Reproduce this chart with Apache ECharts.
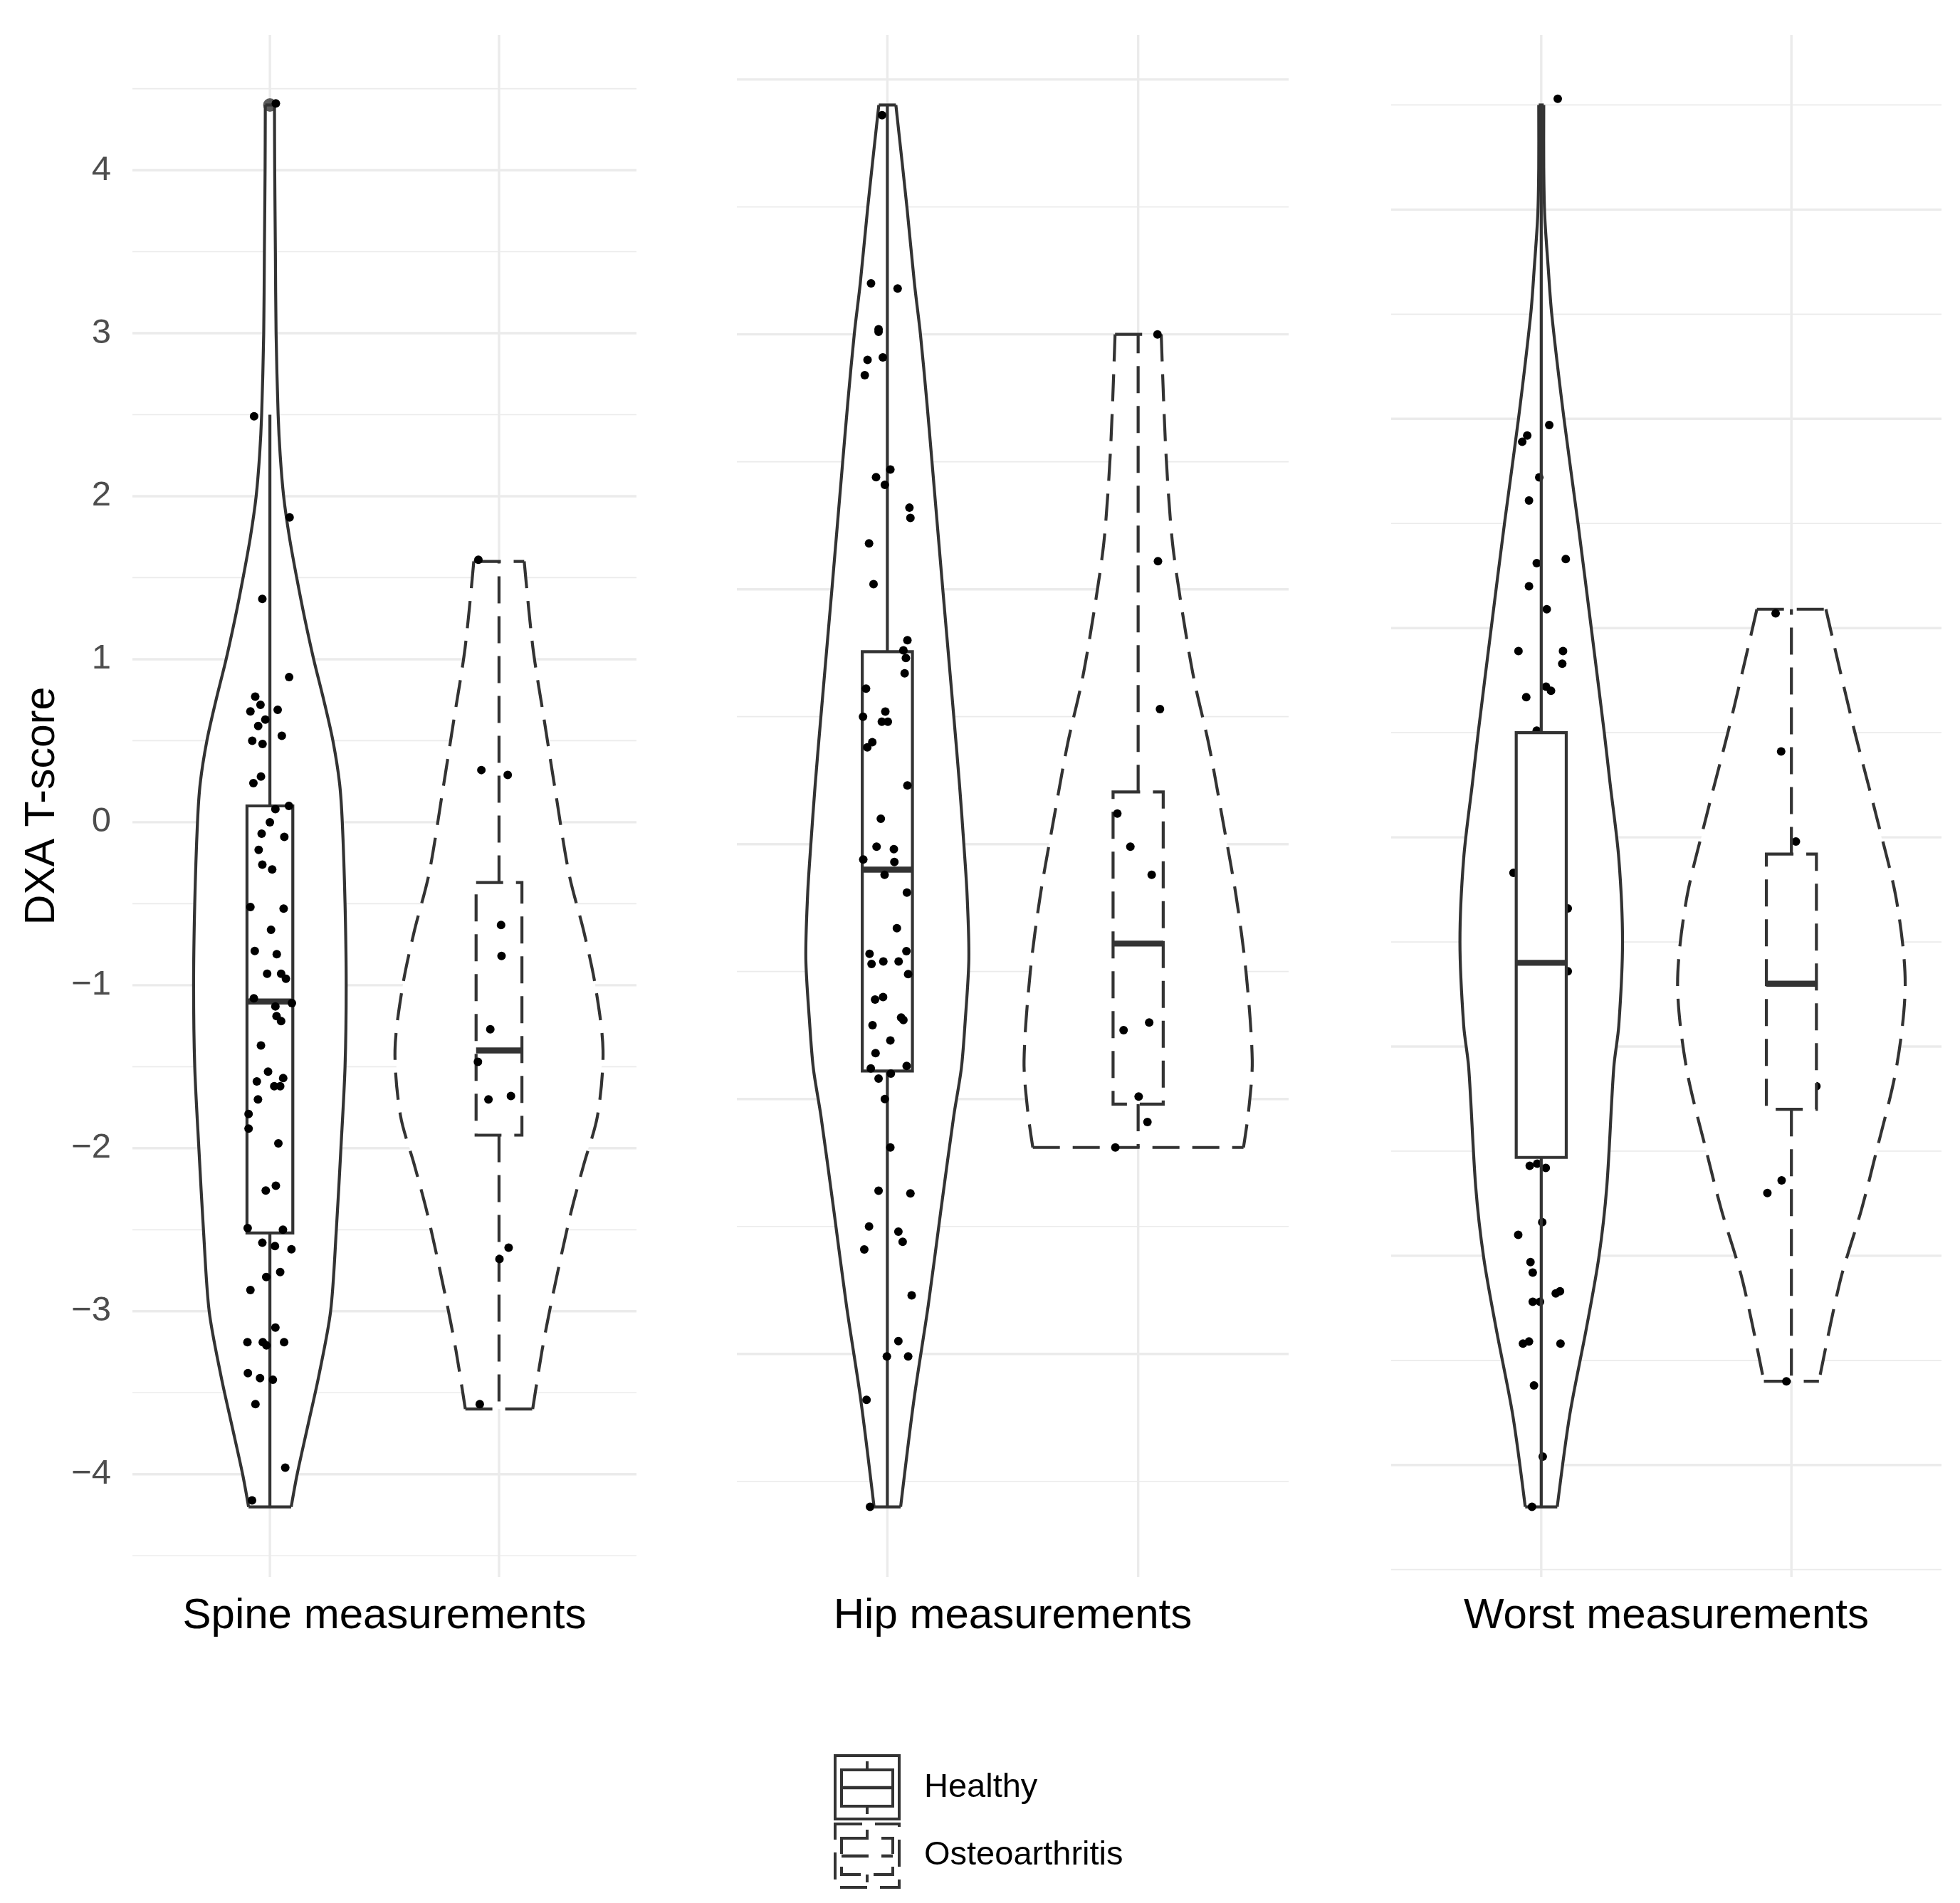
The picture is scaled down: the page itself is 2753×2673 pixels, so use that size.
<!DOCTYPE html>
<html><head><meta charset="utf-8">
<script src="https://cdn.jsdelivr.net/npm/echarts@6/dist/echarts.min.js"></script>
<style>html,body{margin:0;padding:0;background:#fff}#c{width:2753px;height:2673px}</style>
</head><body><div id="c"></div>
<script>
const panels = ['Spine measurements', 'Hip measurements', 'Worst measurements'];
const groups = ['Healthy', 'Osteoarthritis'];

// y tick values (major = labelled, minor = half steps)
const spineMajor = [-4, -3, -2, -1, 0, 1, 2, 3, 4];
const spineMinor = [-4.5, -3.5, -2.5, -1.5, -0.5, 0.5, 1.5, 2.5, 3.5, 4.5];
const hipMajor = [-2, -1, 0, 1, 2, 3];
const hipMinor = [-2.5, -1.5, -0.5, 0.5, 1.5, 2.5];
const worstMajor = [-4, -3, -2, -1, 0, 1, 2];
const worstMinor = [-4.5, -3.5, -2.5, -1.5, -0.5, 0.5, 1.5, 2.5];

// violin outlines: [T-score, half width in category units]
const spineHealthyViolin = [[4.4,0.02],[4.0,0.021],[3.5,0.024],[3.0,0.027],[2.5,0.036],[2.25,0.045],[2.0,0.06],[1.75,0.085],[1.5,0.117],[1.25,0.152],[1.0,0.191],[0.75,0.235],[0.5,0.275],[0.24,0.304],[0,0.316],[-0.5,0.328],[-1.0,0.333],[-1.5,0.328],[-2.0,0.31],[-2.5,0.29],[-3.0,0.265],[-3.4,0.213],[-3.7,0.166],[-4.0,0.119],[-4.2,0.093]];
const spineOAViolin = [[1.6,0.11],[1.07,0.148],[0.62,0.198],[0.2,0.245],[-0.32,0.306],[-0.67,0.37],[-1.0,0.42],[-1.4,0.454],[-1.8,0.43],[-2.1,0.37],[-2.4,0.313],[-2.9,0.235],[-3.24,0.188],[-3.6,0.147]];
const hipHealthyViolin = [[2.9,0.034],[2.5,0.078],[2.2,0.108],[2.0,0.132],[1.74,0.157],[1.5,0.178],[1.0,0.221],[0.5,0.265],[0.23,0.288],[0,0.305],[-0.2,0.318],[-0.45,0.325],[-0.7,0.31],[-0.88,0.295],[-1.065,0.265],[-1.44,0.213],[-1.81,0.163],[-2.18,0.106],[-2.6,0.053]];
const hipOAViolin = [[2.0,0.092],[1.55,0.11],[1.2,0.135],[0.95,0.17],[0.65,0.222],[0.39,0.282],[0.09,0.338],[-0.2,0.39],[-0.5,0.43],[-0.85,0.455],[-1.05,0.44],[-1.19,0.42]];
const worstHealthyViolin = [[2.5,0.01],[2.2,0.01],[1.97,0.014],[1.72,0.028],[1.5,0.042],[1.0,0.091],[0.5,0.147],[0,0.2],[-0.5,0.252],[-0.74,0.275],[-1.1,0.31],[-1.5,0.325],[-1.9,0.31],[-2.1,0.29],[-2.67,0.262],[-3.01,0.23],[-3.35,0.18],[-3.76,0.114],[-4.2,0.064]];
const worstOAViolin = [[0.09,0.138],[-0.18,0.19],[-0.5,0.254],[-0.9,0.34],[-1.3,0.42],[-1.7,0.455],[-2.1,0.42],[-2.5,0.34],[-2.78,0.28],[-3.12,0.195],[-3.6,0.11]];

// box stats: [lower whisker, Q1, median, Q3, upper whisker]
const spineHealthyBox = [-4.2, -2.52, -1.10, 0.10, 2.5];
const spineOABox = [-3.6, -1.92, -1.40, -0.37, 1.6];
const hipHealthyBox = [-2.6, -0.89, -0.10, 0.755, 2.9];
const hipOABox = [-1.19, -1.02, -0.39, 0.205, 2.0];
const worstHealthyBox = [-4.2, -2.53, -1.60, -0.50, 2.5];
const worstOABox = [-3.6, -2.30, -1.70, -1.08, 0.09];
const spineHealthyOutliers = [4.4];

// jittered observations: [horizontal jitter, T-score]
const spineHealthyPoints = [[0.026,4.41],[-0.069,2.49],[0.086,1.87],[-0.033,1.37],[0.084,0.89],[-0.064,0.77],[-0.041,0.72],[-0.085,0.68],[0.034,0.69],[-0.02,0.63],[-0.051,0.59],[0.052,0.53],[-0.077,0.50],[-0.032,0.48],[-0.039,0.28],[-0.072,0.24],[0.024,0.08],[0.083,0.10],[0.0,0.0],[-0.036,-0.07],[0.063,-0.09],[-0.049,-0.17],[-0.033,-0.26],[0.01,-0.29],[-0.085,-0.52],[0.06,-0.53],[0.005,-0.66],[-0.066,-0.79],[0.03,-0.81],[-0.012,-0.93],[0.049,-0.93],[0.07,-0.96],[-0.07,-1.08],[0.096,-1.11],[0.024,-1.13],[0.029,-1.19],[0.049,-1.22],[-0.039,-1.37],[-0.008,-1.53],[-0.057,-1.59],[0.058,-1.57],[0.019,-1.62],[0.045,-1.62],[-0.052,-1.70],[-0.093,-1.79],[-0.093,-1.88],[0.037,-1.97],[0.026,-2.23],[-0.018,-2.26],[-0.097,-2.49],[0.057,-2.50],[-0.033,-2.58],[0.022,-2.60],[0.094,-2.62],[0.045,-2.76],[-0.016,-2.79],[-0.085,-2.87],[0.024,-3.10],[-0.098,-3.19],[-0.031,-3.19],[-0.015,-3.21],[0.062,-3.19],[-0.096,-3.38],[-0.043,-3.41],[0.013,-3.42],[-0.063,-3.57],[0.067,-3.96],[-0.078,-4.16]];
const spineOAPoints = [[-0.09,1.61],[-0.077,0.32],[0.038,0.29],[0.009,-0.63],[0.011,-0.82],[-0.038,-1.27],[-0.092,-1.47],[-0.046,-1.70],[0.052,-1.68],[0.042,-2.61],[0.002,-2.68],[-0.084,-3.57]];
const hipHealthyPoints = [[-0.021,2.86],[-0.065,2.20],[0.041,2.18],[-0.035,2.02],[-0.035,2.01],[-0.079,1.90],[-0.018,1.91],[-0.09,1.84],[0.012,1.47],[-0.045,1.44],[-0.01,1.41],[0.088,1.32],[0.092,1.28],[-0.073,1.18],[-0.055,1.02],[0.08,0.80],[0.064,0.76],[0.074,0.73],[0.069,0.67],[-0.085,0.61],[-0.097,0.50],[-0.008,0.52],[-0.022,0.48],[0.002,0.48],[-0.06,0.40],[-0.08,0.38],[0.08,0.23],[-0.026,0.10],[-0.043,-0.01],[0.026,-0.02],[-0.096,-0.06],[0.028,-0.07],[-0.011,-0.12],[0.078,-0.19],[0.038,-0.33],[-0.071,-0.43],[0.076,-0.42],[-0.063,-0.47],[-0.016,-0.46],[0.045,-0.46],[0.083,-0.51],[-0.049,-0.61],[-0.017,-0.60],[0.055,-0.68],[0.064,-0.69],[-0.059,-0.71],[0.012,-0.77],[-0.047,-0.82],[-0.066,-0.88],[0.077,-0.87],[0.014,-0.90],[-0.035,-0.92],[-0.01,-1.00],[0.012,-1.19],[-0.035,-1.36],[0.092,-1.37],[-0.073,-1.50],[0.044,-1.52],[0.061,-1.56],[-0.092,-1.59],[0.097,-1.77],[0.044,-1.95],[-0.002,-2.01],[0.083,-2.01],[-0.083,-2.18],[-0.069,-2.60]];
const hipOAPoints = [[0.077,2.0],[0.079,1.11],[0.087,0.53],[-0.083,0.12],[-0.031,-0.01],[0.054,-0.12],[-0.058,-0.73],[0.044,-0.70],[0.002,-0.99],[0.037,-1.09],[-0.091,-1.19]];
const worstHealthyPoints = [[0.066,2.53],[0.032,0.97],[-0.056,0.92],[-0.076,0.89],[-0.008,0.72],[-0.049,0.61],[0.098,0.33],[-0.018,0.31],[-0.049,0.20],[0.022,0.09],[-0.091,-0.11],[0.087,-0.11],[0.084,-0.17],[0.019,-0.28],[0.039,-0.30],[-0.06,-0.33],[-0.018,-0.49],[-0.111,-1.17],[0.106,-1.34],[0.106,-1.64],[-0.046,-2.57],[-0.016,-2.56],[0.018,-2.58],[0.004,-2.84],[-0.092,-2.90],[-0.043,-3.03],[-0.034,-3.08],[0.058,-3.18],[0.075,-3.17],[-0.034,-3.22],[-0.005,-3.22],[-0.073,-3.42],[-0.049,-3.41],[0.077,-3.42],[-0.029,-3.62],[0.006,-3.96],[-0.037,-4.2]];
const worstOAPoints = [[-0.063,0.07],[-0.041,-0.59],[0.018,-1.02],[0.1,-2.19],[-0.039,-2.64],[-0.096,-2.70],[-0.02,-3.6]];

const FONT = '"Liberation Sans", Arial, sans-serif';
const LINE = '#333333';
const LW = 4.2;
const DASH = [38, 18];

const panelData = [
  {major: spineMajor, minor: spineMinor, violins: [spineHealthyViolin, spineOAViolin], boxes: [spineHealthyBox, spineOABox], points: [spineHealthyPoints, spineOAPoints], outliers: [spineHealthyOutliers, []], pointsOnTop: true},
  {major: hipMajor, minor: hipMinor, violins: [hipHealthyViolin, hipOAViolin], boxes: [hipHealthyBox, hipOABox], points: [hipHealthyPoints, hipOAPoints], outliers: [[], []], pointsOnTop: true},
  {major: worstMajor, minor: worstMinor, violins: [worstHealthyViolin, worstOAViolin], boxes: [worstHealthyBox, worstOABox], points: [worstHealthyPoints, worstOAPoints], outliers: [[], []], pointsOnTop: false}
];

const gridTop = 49, gridH = 2166;
const grids = [
  {left: 186, top: gridTop, width: 708, height: gridH},
  {left: 1035, top: gridTop, width: 775, height: gridH},
  {left: 1954, top: gridTop, width: 773, height: gridH}
];

function extent(p) {
  let lo = Infinity, hi = -Infinity;
  p.violins.forEach(v => v.forEach(r => { lo = Math.min(lo, r[0]); hi = Math.max(hi, r[0]); }));
  p.outliers.forEach(o => o.forEach(v => { lo = Math.min(lo, v); hi = Math.max(hi, v); }));
  const pad = (hi - lo) * 0.05;
  return [lo - pad, hi + pad];
}

const minus = v => (v < 0 ? '\u2212' + Math.abs(v) : String(v));

const xAxes = [], yAxes = [], series = [];
panelData.forEach((p, gi) => {
  const [ymin, ymax] = extent(p);
  xAxes.push({
    gridIndex: gi, type: 'value', min: 0.4, max: 2.6,
    axisLine: {show: false}, axisTick: {show: false}, axisLabel: {show: false}, splitLine: {show: false},
    name: panels[gi], nameLocation: 'middle', nameGap: 25,
    nameTextStyle: {fontSize: 60, color: '#000', fontFamily: FONT}
  });
  yAxes.push({
    gridIndex: gi, type: 'value', min: ymin, max: ymax,
    axisLine: {show: false}, axisTick: {show: false}, splitLine: {show: false},
    axisLabel: gi === 0 ? {show: true, customValues: p.major, formatter: minus, fontSize: 49, color: '#4D4D4D', margin: 30, fontFamily: FONT} : {show: false},
    name: gi === 0 ? 'DXA T-score' : '', nameLocation: 'middle', nameRotate: 90, nameGap: 97,
    nameTextStyle: {fontSize: 59, color: '#000', fontFamily: FONT}
  });

  const hLines = (vals, w) => ({
    type: 'custom', xAxisIndex: gi, yAxisIndex: gi, z: 1, silent: true, clip: false,
    data: vals.map(v => [1, v]),
    renderItem: (params, api) => {
      const cs = params.coordSys;
      const y = api.coord([1, api.value(1)])[1];
      return {type: 'line', shape: {x1: cs.x, y1: y, x2: cs.x + cs.width, y2: y}, style: {stroke: '#EBEBEB', lineWidth: w}};
    }
  });
  series.push(hLines(p.minor, 1.7));
  series.push(hLines(p.major, 3.4));
  series.push({
    type: 'custom', xAxisIndex: gi, yAxisIndex: gi, z: 1, silent: true, clip: false,
    data: groups.map((g, k) => [k + 1, 0]),
    renderItem: (params, api) => {
      const cs = params.coordSys;
      const x = api.coord([api.value(0), 0])[0];
      return {type: 'line', shape: {x1: x, y1: cs.y, x2: x, y2: cs.y + cs.height}, style: {stroke: '#EBEBEB', lineWidth: 3.4}};
    }
  });

  groups.forEach((g, k) => {
    const gx = k + 1;
    const dashed = k === 1;
    const prof = p.violins[k];
    // violin
    series.push({
      type: 'custom', xAxisIndex: gi, yAxisIndex: gi, z: 2, silent: true, clip: false,
      data: [[gx, prof[0][0]]],
      renderItem: (params, api) => {
        const right = prof.map(r => api.coord([gx + r[1], r[0]]));
        const left = prof.map(r => api.coord([gx - r[1], r[0]]));
        const poly = right.concat(left.slice().reverse());
        const n = prof.length - 1;
        const st = {stroke: LINE, lineWidth: LW, lineDash: dashed ? DASH : null, fill: null, lineJoin: 'round'};
        return {type: 'group', children: [
          {type: 'polygon', shape: {points: poly}, style: {fill: '#fff', stroke: null}},
          {type: 'polyline', shape: {points: right, smooth: 0.3}, style: st},
          {type: 'polyline', shape: {points: left, smooth: 0.3}, style: st},
          {type: 'line', shape: {x1: left[0][0], y1: left[0][1], x2: right[0][0], y2: right[0][1]}, style: st},
          {type: 'line', shape: {x1: left[n][0], y1: left[n][1], x2: right[n][0], y2: right[n][1]}, style: st}
        ]};
      }
    });
    // boxplot
    series.push({
      type: 'custom', xAxisIndex: gi, yAxisIndex: gi, z: p.pointsOnTop ? 3 : 5, silent: true, clip: false,
      data: [[gx].concat(p.boxes[k])],
      renderItem: (params, api) => {
        const x = api.value(0), lw = api.value(1), q1 = api.value(2), md = api.value(3), q3 = api.value(4), uw = api.value(5);
        const c = (a, b) => api.coord([a, b]);
        const st = {stroke: LINE, lineWidth: LW, lineDash: dashed ? DASH : null, fill: null};
        const a = c(x, q3), b = c(x, uw), d = c(x, q1), e = c(x, lw);
        const tl = c(x - 0.1, q3), br = c(x + 0.1, q1);
        const ml = c(x - 0.1, md), mr = c(x + 0.1, md);
        return {type: 'group', children: [
          {type: 'line', shape: {x1: a[0], y1: a[1], x2: b[0], y2: b[1]}, style: st},
          {type: 'line', shape: {x1: d[0], y1: d[1], x2: e[0], y2: e[1]}, style: st},
          {type: 'rect', shape: {x: tl[0], y: tl[1], width: br[0] - tl[0], height: br[1] - tl[1]}, style: Object.assign({}, st, {fill: '#fff'})},
          {type: 'line', shape: {x1: ml[0], y1: ml[1], x2: mr[0], y2: mr[1]}, style: {stroke: LINE, lineWidth: LW * 2, lineDash: dashed ? [76, 36] : null}}
        ]};
      }
    });
    if (p.outliers[k].length) {
      series.push({
        type: 'scatter', xAxisIndex: gi, yAxisIndex: gi, z: 4, silent: true,
        symbolSize: 19, itemStyle: {color: LINE},
        data: p.outliers[k].map(v => [gx, v])
      });
    }
    // jittered points
    series.push({
      type: 'scatter', xAxisIndex: gi, yAxisIndex: gi, z: 4, silent: true,
      symbolSize: 12, itemStyle: {color: '#000', opacity: 1},
      data: p.points[k].map(r => [gx + r[0], r[1]])
    });
  });
});

// legend (ggplot-like key glyphs)
function key(x, y, dashed) {
  const ld = dashed ? DASH : null;
  const st = {stroke: LINE, lineWidth: 4, lineDash: ld, fill: '#fff'};
  const ls = {stroke: LINE, lineWidth: 4, lineDash: ld};
  return [
    {type: 'rect', shape: {x: x, y: y, width: 90, height: 89}, style: st},
    {type: 'line', shape: {x1: x + 45, y1: y + 8, x2: x + 45, y2: y + 20}, style: ls},
    {type: 'rect', shape: {x: x + 9, y: y + 20, width: 72, height: 51}, style: st},
    {type: 'line', shape: {x1: x + 9, y1: y + 45, x2: x + 81, y2: y + 45}, style: {stroke: LINE, lineWidth: 4.5, lineDash: ld}},
    {type: 'line', shape: {x1: x + 45, y1: y + 71, x2: x + 45, y2: y + 82}, style: ls}
  ];
}
const legendGraphics = [].concat(
  key(1173, 2466, false),
  key(1173, 2562, true),
  [
    {type: 'text', x: 1298, y: 2511, style: {text: groups[0], fontSize: 47, fill: '#000', fontFamily: FONT, verticalAlign: 'middle', align: 'left'}},
    {type: 'text', x: 1298, y: 2606, style: {text: groups[1], fontSize: 47, fill: '#000', fontFamily: FONT, verticalAlign: 'middle', align: 'left'}}
  ]
);

const chart = echarts.init(document.getElementById('c'), null, {renderer: 'canvas'});
chart.setOption({
  backgroundColor: '#fff',
  animation: false,
  grid: grids,
  xAxis: xAxes,
  yAxis: yAxes,
  series: series,
  graphic: legendGraphics
});
</script></body></html>
